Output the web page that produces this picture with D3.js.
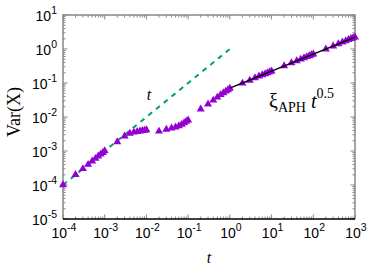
<!DOCTYPE html>
<html>
<head>
<meta charset="utf-8">
<script src="https://cdn.jsdelivr.net/npm/d3@7"></script>
<style>
  body { margin: 0; background: #fff; }
  text { fill: #000; }
</style>
</head>
<body>
<script>
// simulated variance
var times = [
  1e-4, 2e-4, 3e-4, 4e-4, 5e-4, 6e-4, 7e-4, 8e-4, 9e-4,
  1e-3, 2e-3, 3e-3, 4e-3, 5e-3, 6e-3, 7e-3, 8e-3, 9e-3,
  1e-2, 2e-2, 3e-2, 4e-2, 5e-2, 6e-2, 7e-2, 8e-2, 9e-2,
  0.1, 0.2, 0.3, 0.4, 0.5, 0.6, 0.7, 0.8, 0.9,
  1, 2, 3, 4, 5, 6, 7, 8, 9,
  10, 20, 30, 40, 50, 60, 70, 80, 90,
  100, 200, 300, 400, 500, 600, 700, 800, 900, 1000];
var variance = [
  1.0e-4, 2.0e-4, 3.0e-4, 4.0e-4, 5.0e-4, 6.0e-4, 7.0e-4, 8.0e-4, 9.0e-4,
  1.0e-3, 1.85e-3, 2.75e-3, 3.3e-3, 3.55e-3, 3.7e-3, 3.85e-3, 3.95e-3, 4.05e-3,
  4.15e-3, 3.8e-3, 4.3e-3, 4.7e-3, 5.0e-3, 5.5e-3, 6.0e-3, 6.7e-3, 7.4e-3,
  8.1e-3, 0.017, 0.024, 0.031, 0.038, 0.045, 0.051, 0.057, 0.063,
  0.069, 0.098, 0.12, 0.141, 0.158, 0.173, 0.186, 0.199, 0.211,
  0.223, 0.318, 0.387, 0.447, 0.498, 0.548, 0.59, 0.628, 0.668,
  0.705, 0.995, 1.22, 1.41, 1.58, 1.73, 1.87, 2.0, 2.12, 2.24];

// reference lines: ballistic t and xi_APH t^0.5
var ballisticT = [1e-4, 1];
var xiAPH = 0.0705;
var diffT = [1, 1000];

var xTicks = [-4, -3, -2, -1, 0, 1, 2, 3];
var yTicks = [-5, -4, -3, -2, -1, 0, 1];

var width = 382, height = 267;
var pL = 63, pR = 355, pT = 15, pB = 219;

var svg = d3.select("body").append("svg")
    .attr("width", width)
    .attr("height", height);

var x = d3.scaleLog().domain([1e-4, 1e3]).range([pL, pR]);
var y = d3.scaleLog().domain([1e-5, 1e1]).range([pB, pT]);

// minor + major ticks, pointing inward
function minors(lo, hi) {
  var out = [];
  for (var e = lo; e < hi; e++)
    for (var m = 2; m <= 9; m++) out.push(m * Math.pow(10, e));
  return out;
}
var tg = svg.append("g").attr("stroke", "#888").attr("stroke-width", 1);
minors(-4, 3).forEach(function(v) {
  tg.append("line").attr("x1", x(v)).attr("x2", x(v)).attr("y1", pB).attr("y2", pB - 2.5);
  tg.append("line").attr("x1", x(v)).attr("x2", x(v)).attr("y1", pT).attr("y2", pT + 2.5);
});
minors(-5, 1).forEach(function(v) {
  tg.append("line").attr("y1", y(v)).attr("y2", y(v)).attr("x1", pL).attr("x2", pL + 2.5);
  tg.append("line").attr("y1", y(v)).attr("y2", y(v)).attr("x1", pR).attr("x2", pR - 2.5);
});
xTicks.forEach(function(e) {
  var v = Math.pow(10, e);
  tg.append("line").attr("x1", x(v)).attr("x2", x(v)).attr("y1", pB).attr("y2", pB - 4.5);
  tg.append("line").attr("x1", x(v)).attr("x2", x(v)).attr("y1", pT).attr("y2", pT + 4.5);
});
yTicks.forEach(function(e) {
  var v = Math.pow(10, e);
  tg.append("line").attr("y1", y(v)).attr("y2", y(v)).attr("x1", pL).attr("x2", pL + 4.5);
  tg.append("line").attr("y1", y(v)).attr("y2", y(v)).attr("x1", pR).attr("x2", pR - 4.5);
});

// frame
svg.append("path")
    .attr("d", "M" + pL + "," + pB + "V" + pT + "H" + pR + "V" + pB)
    .attr("fill", "none").attr("stroke", "#888").attr("stroke-width", 1.5);
svg.append("line")
    .attr("x1", pL).attr("x2", pR).attr("y1", pB).attr("y2", pB)
    .attr("stroke", "#000").attr("stroke-width", 1.5);

// tick labels
var sans = "'Liberation Sans', Arial, sans-serif";
xTicks.forEach(function(e) {
  var t = svg.append("text")
      .attr("x", x(Math.pow(10, e)) + 1).attr("y", 238)
      .attr("text-anchor", "middle")
      .style("font-family", sans).style("font-size", "14px");
  t.append("tspan").text("10");
  t.append("tspan").attr("dy", -7).style("font-size", "10.5px").text(e);
});
yTicks.forEach(function(e) {
  var t = svg.append("text")
      .attr("x", 57).attr("y", y(Math.pow(10, e)) + 6)
      .attr("text-anchor", "end")
      .style("font-family", sans).style("font-size", "14px");
  t.append("tspan").text("10");
  t.append("tspan").attr("dy", -7).style("font-size", "10.5px").text(e);
});

// lines
var line = d3.line().x(function(d) { return x(d[0]); }).y(function(d) { return y(d[1]); });
svg.append("path")
    .datum(ballisticT.map(function(t) { return [t, t]; }))
    .attr("d", line)
    .attr("fill", "none").attr("stroke", "#009e73").attr("stroke-width", 2)
    .attr("stroke-dasharray", "5,5");

var pts = svg.append("g");
var tri = d3.symbol().type(d3.symbolTriangle).size(28);
pts.selectAll("path").data(times).enter().append("path")
    .attr("transform", function(d, i) { return "translate(" + x(d) + "," + y(variance[i]) + ")"; })
    .attr("d", tri)
    .attr("fill", "#9400d3");

svg.append("path")
    .datum(diffT.map(function(t) { return [t, xiAPH * Math.sqrt(t)]; }))
    .attr("d", line)
    .attr("fill", "none").attr("stroke", "#000").attr("stroke-width", 1.5);

// labels
var serif = "'Liberation Serif', 'Times New Roman', serif";
svg.append("text")
    .attr("transform", "translate(20,112) rotate(-90)")
    .attr("text-anchor", "middle")
    .style("font-family", serif).style("font-size", "18px")
    .text("Var(X)");
svg.append("text")
    .attr("x", 209).attr("y", 263).attr("text-anchor", "middle")
    .style("font-family", serif).style("font-style", "italic").style("font-size", "16px")
    .text("t");
svg.append("text")
    .attr("x", 149).attr("y", 100).attr("text-anchor", "middle")
    .style("font-family", serif).style("font-style", "italic").style("font-size", "16px")
    .text("t");

var lab = svg.append("text")
    .attr("x", 269).attr("y", 108)
    .style("font-family", serif).style("font-size", "20px");
lab.append("tspan").text("\u03be");
lab.append("tspan").attr("dy", 4).style("font-size", "14px").text("APH");
lab.append("tspan").attr("dy", -4).text(" ");
lab.append("tspan").style("font-style", "italic").text("t");
lab.append("tspan").attr("dy", -10).style("font-size", "14px").text("0.5");
</script>
</body>
</html>
